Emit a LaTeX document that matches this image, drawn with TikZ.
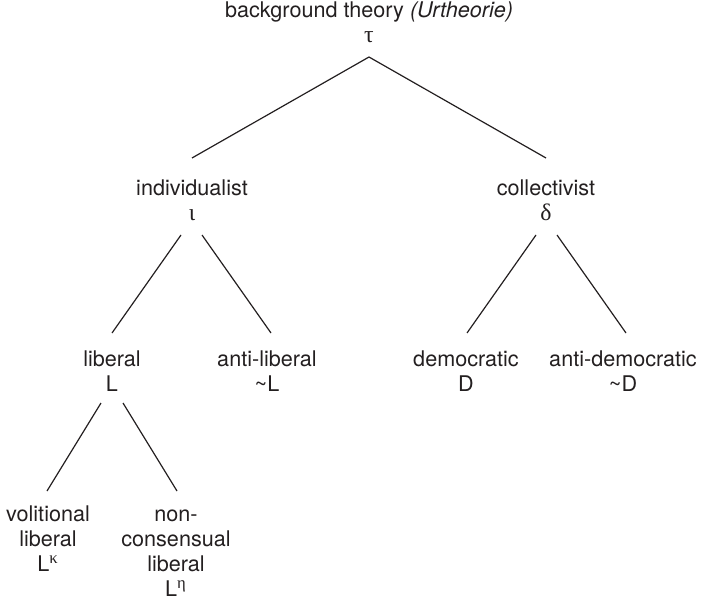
\documentclass[tikz,border=0pt]{standalone}
\usepackage{fontspec}
\setmainfont{TeX Gyre Heros}
\newfontfamily\grk[Scale=1.1]{Liberation Serif}
\usetikzlibrary{calc}
\definecolor{ink}{HTML}{231F20}
\newcommand{\stack}[1]{\begin{tabular}[t]{@{}c@{}}#1\end{tabular}}
\tikzset{
  lbl/.style={anchor=base,inner sep=0pt,text=ink,font=\fontsize{10.8}{12.5}\selectfont},
  edge/.style={draw=ink,line width=0.6pt}
}
\begin{document}
\begin{tikzpicture}[x=0.5pt,y=-0.5pt]
\useasboundingbox (0,0) rectangle (702,599);
\node[lbl] (top) at (369,18) {\stack{background theory \textit{(Urtheorie)}\\ {\grk τ}}};
\node[lbl] (ind) at (192,196) {\stack{individualist\\ {\grk ι}}};
\node[lbl] (col) at (546,196) {\stack{collectivist\\ {\grk δ}}};
\node[lbl] (lib) at (112,366) {\stack{liberal\\ L}};
\node[lbl] (alib) at (267,366) {\stack{anti-liberal\\ \textasciitilde L}};
\node[lbl] (dem) at (466,366) {\stack{democratic\\ D}};
\node[lbl] (adem) at (623,366) {\stack{anti-democratic\\ \textasciitilde D}};
\node[lbl] (vol) at (48,521) {\stack{volitional\\ liberal\\ L\textsuperscript{\grk κ}}};
\node[lbl] (ncl) at (176,521) {\stack{non-\\ consensual\\ liberal\\ L\textsuperscript{\grk η}}};
\draw[edge] ([shift={(0,39)}]top.base) -- ([shift={(0,-38)}]ind.base);
\draw[edge] ([shift={(0,39)}]top.base) -- ([shift={(0,-38)}]col.base);
\draw[edge] ([shift={(-11,39)}]ind.base) -- ([shift={(0,-33)}]lib.base);
\draw[edge] ([shift={(10,39)}]ind.base) -- ([shift={(4,-33)}]alib.base);
\draw[edge] ([shift={(-10,39)}]col.base) -- ([shift={(1,-33)}]dem.base);
\draw[edge] ([shift={(11,39)}]col.base) -- ([shift={(3,-33)}]adem.base);
\draw[edge] ([shift={(-11,37)}]lib.base) -- ([shift={(-1,-30)}]vol.base);
\draw[edge] ([shift={(11,37)}]lib.base) -- ([shift={(1,-30)}]ncl.base);
\end{tikzpicture}
\end{document}
